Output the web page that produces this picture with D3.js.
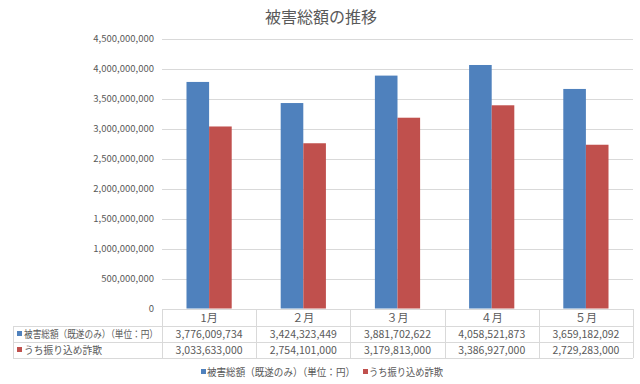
<!DOCTYPE html>
<html>
<head>
<meta charset="utf-8">
<script src="https://cdn.jsdelivr.net/npm/d3@7"></script>
<style>
  body { margin: 0; background: #fff; }
  text { font-family: "Noto Sans CJK JP", "Noto Sans", sans-serif; fill: #595959; }
</style>
</head>
<body>
<svg width="640" height="384"></svg>
<script>
var months = ["1月", "２月", "３月", "４月", "５月"];
var seriesNames = ["被害総額（既遂のみ）（単位：円）", "うち振り込め詐欺"];
var totalDamage = [3776009734, 3424323449, 3881702622, 4058521873, 3659182092];
var transferFraud = [3033633000, 2754101000, 3179813000, 3386927000, 2729283000];
var yTicks = [0, 500000000, 1000000000, 1500000000, 2000000000, 2500000000, 3000000000, 3500000000, 4000000000, 4500000000];
var colors = ["#4f81bd", "#c0504d"];

var svg = d3.select("svg");
var plotLeft = 162, plotRight = 633, plotTop = 38.5, plotBottom = 308.5;
var series = [totalDamage, transferFraud];

var y = d3.scaleLinear().domain([0, 4500000000]).range([plotBottom, plotTop]);
var x = d3.scaleBand().domain(months).range([plotLeft, plotRight]).padding(0);
var groupW = x.bandwidth() * 0.48;
var x1 = d3.scaleBand().domain([0, 1]).range([(x.bandwidth() - groupW) / 2, (x.bandwidth() + groupW) / 2]);

var fmt = d3.format(",");

// title
svg.append("text")
    .attr("x", 321).attr("y", 23)
    .attr("text-anchor", "middle")
    .style("font-size", "16px")
    .text("被害総額の推移");

// gridlines
svg.append("g").selectAll("line")
    .data(yTicks.slice(1))
    .enter().append("line")
      .attr("x1", plotLeft).attr("x2", plotRight)
      .attr("y1", function(d) { return Math.round(y(d)) + 0.5; })
      .attr("y2", function(d) { return Math.round(y(d)) + 0.5; })
      .attr("stroke", "#d9d9d9");

// y axis labels
var yAxis = d3.axisLeft(y).tickValues(yTicks).tickFormat(fmt).tickSize(0).tickPadding(8);
var ya = svg.append("g").attr("transform", "translate(" + plotLeft + ",0)").call(yAxis);
ya.select(".domain").remove();
ya.selectAll("text").style("font-size", "9.5px").style("fill", "#595959")
    .style("font-family", "'Noto Sans CJK JP', sans-serif");

// bars
var groups = svg.append("g").selectAll("g")
    .data(months)
    .enter().append("g")
      .attr("transform", function(d) { return "translate(" + x(d) + ",0)"; });

groups.selectAll("rect")
    .data(function(d, i) { return series.map(function(s, k) { return {k: k, v: s[i]}; }); })
    .enter().append("rect")
      .attr("x", function(d) { return x1(d.k); })
      .attr("width", x1.bandwidth())
      .attr("y", function(d) { return y(d.v); })
      .attr("height", function(d) { return y(0) - y(d.v); })
      .attr("fill", function(d) { return colors[d.k]; });

// data table
var tableLeft = 13;
var rowY = [309, 326, 342, 358];
var tbl = svg.append("g").attr("stroke", "#d9d9d9").attr("fill", "none");
tbl.append("line").attr("x1", plotLeft).attr("x2", plotRight).attr("y1", rowY[0] + 0.5).attr("y2", rowY[0] + 0.5);
[1, 2, 3].forEach(function(r) {
  tbl.append("line").attr("x1", tableLeft).attr("x2", plotRight).attr("y1", rowY[r] + 0.5).attr("y2", rowY[r] + 0.5);
});
tbl.append("line").attr("x1", tableLeft + 0.5).attr("x2", tableLeft + 0.5).attr("y1", rowY[1]).attr("y2", rowY[3]);
months.concat(["end"]).forEach(function(m, i) {
  var xx = i < months.length ? x(m) : plotRight;
  tbl.append("line").attr("x1", Math.round(xx) + 0.5).attr("x2", Math.round(xx) + 0.5)
      .attr("y1", rowY[0]).attr("y2", rowY[3]);
});

// header labels
svg.append("g").selectAll("text")
    .data(months)
    .enter().append("text")
      .attr("x", function(d) { return x(d) + x.bandwidth() / 2; })
      .attr("y", (rowY[0] + rowY[1]) / 2 + 4)
      .attr("text-anchor", "middle")
      .style("font-size", "11px")
      .text(function(d) { return d; });

// rows
var labelW = [134, 78];
series.forEach(function(s, k) {
  var cy = (rowY[k + 1] + rowY[k + 2]) / 2;
  svg.append("rect").attr("x", tableLeft + 4).attr("y", cy - 3).attr("width", 5).attr("height", 5).attr("fill", colors[k]);
  svg.append("text").attr("x", tableLeft + 11).attr("y", cy + 4)
      .attr("textLength", labelW[k]).attr("lengthAdjust", "spacingAndGlyphs")
      .style("font-size", "10px").text(seriesNames[k]);
  svg.append("g").selectAll("text")
      .data(s)
      .enter().append("text")
        .attr("x", function(d, i) { return x(months[i]) + x.bandwidth() / 2; })
        .attr("y", cy + 4)
        .attr("text-anchor", "middle")
        .style("font-size", "10.5px")
        .text(function(d) { return fmt(d); });
});

// legend
var legendX = [201, 363];
var legendW = [148, 74];
seriesNames.forEach(function(n, k) {
  svg.append("rect").attr("x", legendX[k]).attr("y", 369).attr("width", 5).attr("height", 5).attr("fill", colors[k]);
  svg.append("text").attr("x", legendX[k] + 6).attr("y", 376)
      .attr("textLength", legendW[k]).attr("lengthAdjust", "spacingAndGlyphs")
      .style("font-size", "10.5px").text(n);
});
</script>
</body>
</html>
